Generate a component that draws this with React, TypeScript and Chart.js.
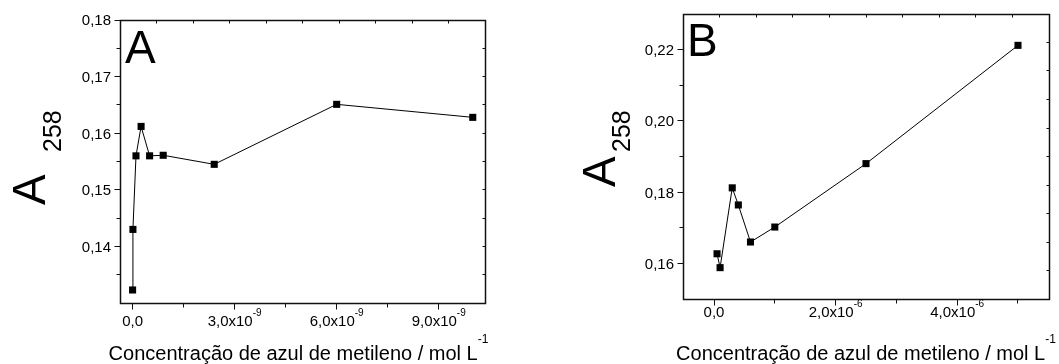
import React, { useEffect, useRef } from "react";
import { Chart, registerables } from "chart.js";

Chart.register(...registerables);

// ---------- Panel A data ----------
const concA = [0, 0.01e-9, 0.1e-9, 0.25e-9, 0.5e-9, 0.9e-9, 2.4e-9, 6.0e-9, 10.0e-9];
const absA = [0.1323, 0.143, 0.156, 0.1612, 0.156, 0.1561, 0.1545, 0.1651, 0.1628];
const xTicksA = [0, 3e-9, 6e-9, 9e-9];
const xTickTextA = ["0,0", "3,0x10", "6,0x10", "9,0x10"];
const xTickExpA = ["", "-9", "-9", "-9"];
const xMinorA = [1.5e-9, 4.5e-9, 7.5e-9];
const yTicksA = [0.14, 0.15, 0.16, 0.17, 0.18];
const yTickTextA = ["0,14", "0,15", "0,16", "0,17", "0,18"];
const yMinorA = [0.135, 0.145, 0.155, 0.165, 0.175];

// ---------- Panel B data ----------
const concB = [0.05e-6, 0.1e-6, 0.3e-6, 0.4e-6, 0.6e-6, 1.0e-6, 2.5e-6, 5.0e-6];
const absB = [0.1627, 0.1588, 0.1812, 0.1764, 0.166, 0.1702, 0.188, 0.2212];
const xTicksB = [0, 2e-6, 4e-6];
const xTickTextB = ["0,0", "2,0x10", "4,0x10"];
const xTickExpB = ["", "-6", "-6"];
const xMinorB = [1e-6, 3e-6, 5e-6];
const yTicksB = [0.16, 0.18, 0.2, 0.22];
const yTickTextB = ["0,16", "0,18", "0,20", "0,22"];
const yMinorB = [0.17, 0.19, 0.21];

// top / right frame divisions
const frameTicks = [1, 2, 3, 4, 5, 6, 7, 8, 9];

const xTitle = "Concentração de azul de metileno / mol L";
const xTitleExp = "-1";
const yTitleMain = "A";
const yTitleSub = "258";

const FONT = "'Liberation Sans', Arial, Helvetica, sans-serif";

type Cfg = {
  xs: number[];
  ys: number[];
  xMin: number;
  xMax: number;
  yMin: number;
  yMax: number;
  padding: { left: number; right: number; top: number; bottom: number };
  xMajor: number[];
  xText: string[];
  xExp: string[];
  xMinor: number[];
  yMajor: number[];
  yText: string[];
  yMinor: number[];
  xLabelY: number;
  titleCX: number;
  titleY: number;
  yTitleX: number;
  yTitleY: number;
  subU: number;
  subV: number;
  panel: string;
  panelX: number;
  panelY: number;
};

const snap = (v: number) => Math.round(v - 0.5) + 0.5;

function makePlugin(c: Cfg) {
  return {
    id: "originAxes",
    afterDraw(chart: any) {
      const ctx: CanvasRenderingContext2D = chart.ctx;
      const ca = chart.chartArea;
      const sx = chart.scales.x;
      const sy = chart.scales.y;
      const sx2 = chart.scales.x2;
      const sy2 = chart.scales.y2;
      const L = snap(ca.left);
      const R = snap(ca.right);
      const T = snap(ca.top);
      const B = snap(ca.bottom);
      ctx.save();
      ctx.strokeStyle = "#111";
      ctx.lineWidth = 1.5;
      ctx.strokeRect(L, T, R - L, B - T);
      ctx.lineWidth = 1;
      ctx.beginPath();
      c.xMajor.forEach((v) => {
        const px = snap(sx.getPixelForValue(v));
        ctx.moveTo(px, B);
        ctx.lineTo(px, B + 6);
      });
      c.xMinor.forEach((v) => {
        const px = snap(sx.getPixelForValue(v));
        ctx.moveTo(px, B);
        ctx.lineTo(px, B + 4);
      });
      c.yMajor.forEach((v) => {
        const py = snap(sy.getPixelForValue(v));
        ctx.moveTo(L, py);
        ctx.lineTo(L - 6, py);
      });
      c.yMinor.forEach((v) => {
        const py = snap(sy.getPixelForValue(v));
        ctx.moveTo(L, py);
        ctx.lineTo(L - 4, py);
      });
      frameTicks.forEach((v) => {
        const px = snap(sx2.getPixelForValue(v));
        ctx.moveTo(px, T);
        ctx.lineTo(px, T + 3);
        const py = snap(sy2.getPixelForValue(v));
        ctx.moveTo(R, py);
        ctx.lineTo(R - 3, py);
      });
      ctx.stroke();

      ctx.fillStyle = "#000";
      ctx.textBaseline = "alphabetic";
      // y tick labels
      ctx.font = `15px ${FONT}`;
      ctx.textAlign = "right";
      c.yMajor.forEach((v, i) => {
        ctx.fillText(c.yText[i], ca.left - 9, sy.getPixelForValue(v) + 5.4);
      });
      // x tick labels with superscript exponent
      ctx.textAlign = "left";
      c.xMajor.forEach((v, i) => {
        ctx.font = `15px ${FONT}`;
        const w1 = ctx.measureText(c.xText[i]).width;
        ctx.font = `10px ${FONT}`;
        const w2 = c.xExp[i] ? ctx.measureText(c.xExp[i]).width : 0;
        const px = sx.getPixelForValue(v);
        const x0 = px - (w1 + w2) / 2;
        ctx.font = `15px ${FONT}`;
        ctx.fillText(c.xText[i], x0, c.xLabelY);
        if (w2) {
          ctx.font = `10px ${FONT}`;
          ctx.fillText(c.xExp[i], x0 + w1, c.xLabelY - 10);
        }
      });
      // x title
      ctx.font = `20px ${FONT}`;
      const tw1 = ctx.measureText(xTitle).width;
      ctx.font = `12px ${FONT}`;
      const tw2 = ctx.measureText(xTitleExp).width;
      const tx = c.titleCX - (tw1 + tw2) / 2;
      ctx.font = `20px ${FONT}`;
      ctx.fillText(xTitle, tx, c.titleY);
      ctx.font = `12px ${FONT}`;
      ctx.fillText(xTitleExp, tx + tw1, c.titleY - 17);
      // y title (rotated)
      ctx.save();
      ctx.translate(c.yTitleX, c.yTitleY);
      ctx.rotate(-Math.PI / 2);
      ctx.font = `46px ${FONT}`;
      ctx.fillText(yTitleMain, 0, 0);
      ctx.font = `25px ${FONT}`;
      ctx.fillText(yTitleSub, c.subU, c.subV);
      ctx.restore();
      // panel letter
      ctx.font = `46px ${FONT}`;
      ctx.fillText(c.panel, c.panelX, c.panelY);
      ctx.restore();
    },
  };
}

const cfgA: Cfg = {
  xs: concA,
  ys: absA,
  xMin: -0.37e-9,
  xMax: 10.36e-9,
  yMin: 0.13,
  yMax: 0.18,
  padding: { left: 120, right: 45, top: 20, bottom: 61 },
  xMajor: xTicksA,
  xText: xTickTextA,
  xExp: xTickExpA,
  xMinor: xMinorA,
  yMajor: yTicksA,
  yText: yTickTextA,
  yMinor: yMinorA,
  xLabelY: 326,
  titleCX: 298.5,
  titleY: 360,
  yTitleX: 45,
  yTitleY: 205,
  subU: 53,
  subV: 16,
  panel: "A",
  panelX: 125,
  panelY: 63,
};

const cfgB: Cfg = {
  xs: concB,
  ys: absB,
  xMin: -0.51e-6,
  xMax: 5.51e-6,
  yMin: 0.15,
  yMax: 0.23,
  padding: { left: 153, right: 10, top: 14, bottom: 65 },
  xMajor: xTicksB,
  xText: xTickTextB,
  xExp: xTickExpB,
  xMinor: xMinorB,
  yMajor: yTicksB,
  yText: yTickTextB,
  yMinor: yMinorB,
  xLabelY: 317,
  titleCX: 336,
  titleY: 360,
  yTitleX: 85,
  yTitleY: 187,
  subU: 35,
  subV: 15,
  panel: "B",
  panelX: 157,
  panelY: 56,
};

function Panel({ cfg, left, width }: { cfg: Cfg; left: number; width: number }) {
  const ref = useRef<HTMLCanvasElement>(null);
  useEffect(() => {
    const chart = new Chart(ref.current as HTMLCanvasElement, {
      type: "line",
      data: {
        datasets: [
          {
            data: cfg.xs.map((x, i) => ({ x, y: cfg.ys[i] })),
            borderColor: "#000",
            borderWidth: 1,
            backgroundColor: "#000",
            pointBackgroundColor: "#000",
            pointBorderColor: "#000",
            pointBorderWidth: 0,
            pointStyle: "rect",
            pointRadius: 5,
            tension: 0,
            fill: false,
          },
        ],
      },
      options: {
        responsive: false,
        animation: false,
        events: [],
        layout: { padding: cfg.padding },
        plugins: { legend: { display: false }, tooltip: { enabled: false } },
        scales: {
          x: { type: "linear", display: false, min: cfg.xMin, max: cfg.xMax },
          y: { type: "linear", display: false, min: cfg.yMin, max: cfg.yMax },
          x2: { type: "linear", display: false, min: 0, max: 10, position: "top", axis: "x" },
          y2: { type: "linear", display: false, min: 0, max: 10, position: "right", axis: "y" },
        },
      } as any,
      plugins: [makePlugin(cfg) as any],
    });
    return () => chart.destroy();
  }, [cfg]);
  return (
    <canvas
      ref={ref}
      width={width}
      height={364}
      style={{ position: "absolute", left, top: 0, width, height: 364, display: "block" }}
    />
  );
}

export default function App() {
  return (
    <div style={{ position: "absolute", left: 0, top: 0, width: 1059, height: 364, background: "#fff" }}>
      <Panel cfg={cfgA} left={0} width={530} />
      <Panel cfg={cfgB} left={530} width={529} />
    </div>
  );
}
